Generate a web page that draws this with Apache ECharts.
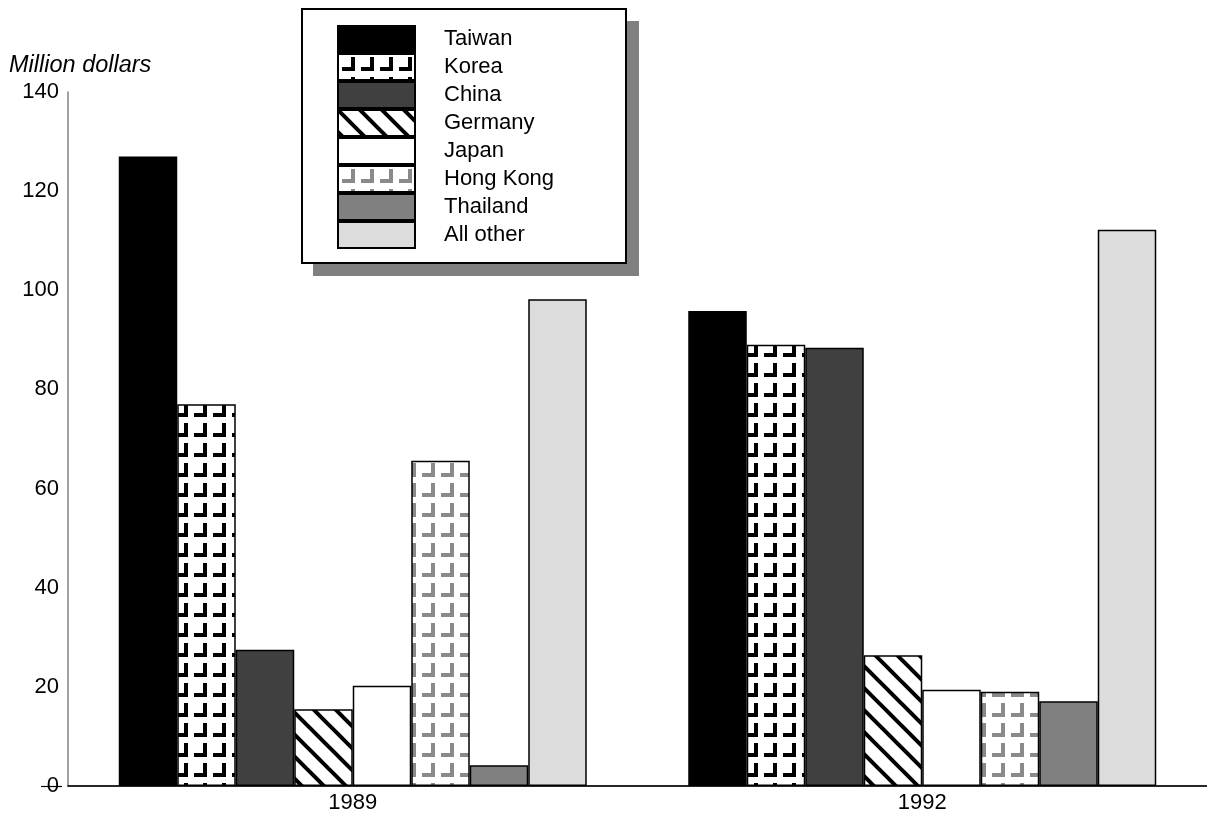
<!DOCTYPE html>
<html>
<head>
<meta charset="utf-8">
<script src="https://cdn.jsdelivr.net/npm/echarts@6/dist/echarts.min.js"></script>
<style>
  html, body { margin: 0; padding: 0; background: #fff; }
  #chart { width: 1207px; height: 817px; }
</style>
</head>
<body>
<div id="chart"></div>
<script>
// Years shown on the category axis
const years = ['1989', '1992'];

// Source countries (legend order)
const countries = ['Taiwan', 'Korea', 'China', 'Germany', 'Japan', 'Hong Kong', 'Thailand', 'All other'];

// Imports, million dollars, per country: [1989, 1992]
const taiwan   = [127, 95.8];
const korea    = [77, 89];
const china    = [27.5, 88.4];
const germany  = [15.5, 26.4];
const japan    = [20.2, 19.4];
const hongKong = [65.6, 19];
const thailand = [4.2, 17.1];
const allOther = [98.2, 112.2];

const values = [taiwan, korea, china, germany, japan, hongKong, thailand, allOther];

// Value axis ticks
const yMin = 0, yMax = 140, yStep = 20;

// --- fill patterns -------------------------------------------------------
function cornerPattern(ink) {
  const c = document.createElement('canvas');
  c.width = 19; c.height = 20;
  const g = c.getContext('2d');
  g.fillStyle = '#fff';
  g.fillRect(0, 0, 19, 20);
  g.fillStyle = ink;
  g.fillRect(13, 3, 4, 14);   // vertical stroke
  g.fillRect(4, 13, 13, 4);   // bottom stroke
  return { image: c, repeat: 'repeat' };
}

function stripePattern() {
  const s = 22;
  const c = document.createElement('canvas');
  c.width = s; c.height = s;
  const g = c.getContext('2d');
  g.fillStyle = '#fff';
  g.fillRect(0, 0, s, s);
  g.strokeStyle = '#000';
  g.lineWidth = 4;
  for (const d of [-s, 0, s]) {
    g.beginPath();
    g.moveTo(d - 2, -2);
    g.lineTo(d + s + 2, s + 2);
    g.stroke();
  }
  return { image: c, repeat: 'repeat' };
}

const fills = [
  '#000000',
  cornerPattern('#000000'),
  '#404040',
  stripePattern(),
  '#ffffff',
  cornerPattern('#8a8a8a'),
  '#808080',
  '#dcdcdc'
];

const font = 'Arial, "Liberation Sans", Helvetica, sans-serif';
const fontSize = 22;

const series = countries.map((name, i) => ({
  name: name,
  type: 'bar',
  data: values[i],
  barWidth: 58.5,
  barGap: '0%',
  itemStyle: { color: fills[i], borderColor: '#000', borderWidth: 1.5 },
  emphasis: { disabled: true }
}));

const chart = echarts.init(document.getElementById('chart'), null, { renderer: 'canvas' });

chart.setOption({
  animation: false,
  backgroundColor: '#ffffff',
  title: {
    text: 'Million dollars',
    left: 4,
    top: 49,
    textStyle: { fontFamily: font, fontSize: 23.5, fontStyle: 'italic', fontWeight: 'normal', color: '#000' }
  },
  grid: { left: 68, right: 0, top: 92, bottom: 31, containLabel: false },
  xAxis: [
    {
      type: 'category',
      data: years,
      axisLine: { show: true, lineStyle: { color: '#808080', width: 1.5 } },
      axisTick: { show: false },
      axisLabel: { fontFamily: font, fontSize: fontSize, color: '#000', margin: 6 },
      splitLine: { show: false }
    },
    {
      type: 'category',
      data: years,
      position: 'top',
      axisLine: { show: true, lineStyle: { color: '#000', width: 1.5 } },
      axisTick: { show: false },
      axisLabel: { show: false },
      splitLine: { show: false }
    }
  ],
  yAxis: [
    {
      type: 'value',
      min: yMin,
      max: yMax,
      interval: yStep,
      axisLine: { show: true, lineStyle: { color: '#808080', width: 1.5 } },
      axisTick: { show: false },
      axisLabel: { fontFamily: font, fontSize: fontSize, color: '#000', margin: 9 },
      splitLine: { show: false }
    },
    {
      type: 'value',
      min: yMin,
      max: yMax,
      interval: yStep,
      offset: 6,
      position: 'left',
      axisLine: { show: false },
      axisTick: { show: true, customValues: [0], length: 21, lineStyle: { color: '#000', width: 1.2 } },
      axisLabel: { show: false },
      splitLine: { show: false }
    }
  ],
  legend: {
    data: countries,
    orient: 'vertical',
    left: 337,
    top: 25,
    padding: 0,
    z: 20,
    itemWidth: 77,
    itemHeight: 26,
    itemGap: 0,
    icon: 'rect',
    selectedMode: false,
    itemStyle: { borderColor: '#000', borderWidth: 2 },
    textStyle: { fontFamily: font, fontSize: fontSize, lineHeight: 26, color: '#000', padding: [0, 0, 0, 24] }
  },
  graphic: [
    {
      type: 'rect',
      z: 10,
      shape: { x: 313, y: 21, width: 326, height: 255 },
      style: { fill: '#808080' }
    },
    {
      type: 'rect',
      z: 11,
      shape: { x: 302, y: 9, width: 324, height: 254 },
      style: { fill: '#ffffff', stroke: '#000', lineWidth: 2 }
    }
  ],
  series: series
});
</script>
</body>
</html>
